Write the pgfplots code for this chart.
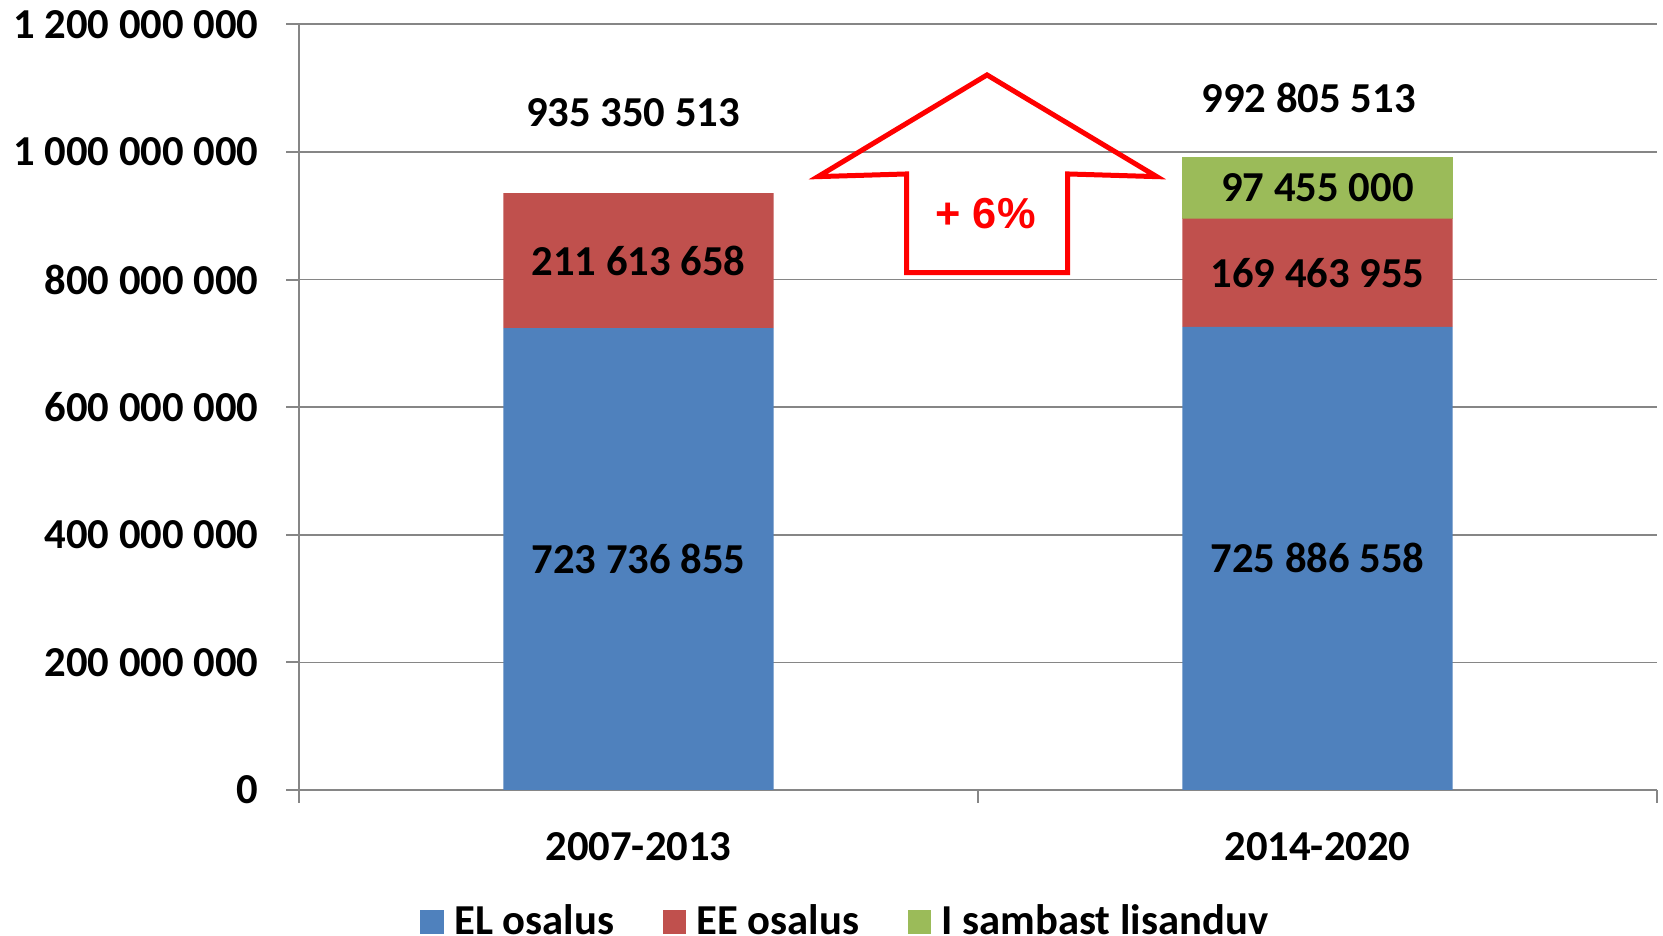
\documentclass[border=0pt]{standalone}
\usepackage{pgfplots}
\pgfplotsset{compat=1.18}
\usepackage{fontspec}
\setmainfont{Carlito}
\newfontfamily\arialfont{Liberation Sans}
\definecolor{cblue}{HTML}{4F81BD}
\definecolor{cred}{HTML}{C0504D}
\definecolor{cgreen}{HTML}{9BBB59}
\definecolor{cgrid}{HTML}{868686}
\tikzset{vlab/.style={font=\bfseries\fontsize{12.8}{15}\selectfont, anchor=center}}
\pgfplotsset{sqlegend/.style={legend image code/.code={\fill[##1] (0pt,-3.6pt) rectangle (7.0pt,3.6pt);}}}
\begin{document}
\begin{tikzpicture}
\begin{axis}[
  at={(0,0)}, anchor=south west,
  scale only axis, width=407.4pt, height=229.7pt,
  ybar stacked, bar width=0.398,
  xmin=-0.5, xmax=1.5, ymin=0, ymax=1.2e9,
  xtick={-0.5,0.5,1.5}, xticklabels={,,},
  extra x ticks={0,1}, extra x tick labels={2007-2013,2014-2020},
  extra x tick style={major tick length=0pt},
  ytick={0,200000000,400000000,600000000,800000000,1000000000,1200000000},
  yticklabels={0,200 000 000,400 000 000,600 000 000,800 000 000,1 000 000 000,1 200 000 000},
  scaled y ticks=false,
  tick align=outside, major tick length=3.8pt,
  tick style={draw=cgrid, line width=0.6pt},
  axis x line*=bottom, axis y line*=left,
  axis line style={draw=cgrid, line width=0.7pt},
  ymajorgrids, grid style={draw=cgrid, line width=0.5pt},
  ticklabel style={font=\bfseries\fontsize{12.8}{15}\selectfont},
  yticklabel style={xshift=-4.8pt},
  xticklabel style={yshift=-9.1pt},
  legend columns=-1,
  legend style={at={(rel axis cs:0.404,-0.172)}, anchor=center, draw=none,
    font=\bfseries\fontsize{12.8}{15}\selectfont,
    /tikz/every odd column/.append style={column sep=1.2pt},
    /tikz/every even column/.append style={column sep=12.5pt}},
  sqlegend,
]
\addplot[fill=cblue, draw=none] coordinates {(0,723736855) (1,725886558)};
\addplot[fill=cred, draw=none] coordinates {(0,211613658) (1,169463955)};
\addplot[fill=cgreen, draw=none] coordinates {(0,0) (1,97455000)};
\legend{EL osalus, EE osalus, I sambast lisanduv}

\coordinate (a1) at (axis cs:0,361868428);
\coordinate (a2) at (axis cs:0,829543684);
\coordinate (b1) at (axis cs:1,362943279);
\coordinate (b2) at (axis cs:1,810618536);
\coordinate (b3) at (axis cs:1,944078013);
\coordinate (ta) at (axis cs:-0.008,1062000000);
\coordinate (tb) at (axis cs:0.987,1085300000);
\draw[red, line width=1.5pt, line join=miter]
  (axis cs:0.5133,1120700000) -- (axis cs:0.7632,961300000) -- (axis cs:0.6321,965500000)
  -- (axis cs:0.6321,810800000) -- (axis cs:0.395,810800000) -- (axis cs:0.395,965500000)
  -- (axis cs:0.2644,961300000) -- cycle;
\node[text=red, font=\arialfont\bfseries\fontsize{13}{15}\selectfont] at (axis cs:0.5113,903900000) {+ 6\%};
\end{axis}
\node[vlab] at (a1) {723 736 855};
\node[vlab] at (a2) {211 613 658};
\node[vlab] at (b1) {725 886 558};
\node[vlab] at (b2) {169 463 955};
\node[vlab] at (b3) {97 455 000};
\node[vlab] at (ta) {935 350 513};
\node[vlab] at (tb) {992 805 513};
\pgfresetboundingbox
\useasboundingbox (-89.7pt,-43.8pt) rectangle (409.2pt,237pt);
\end{tikzpicture}
\end{document}
